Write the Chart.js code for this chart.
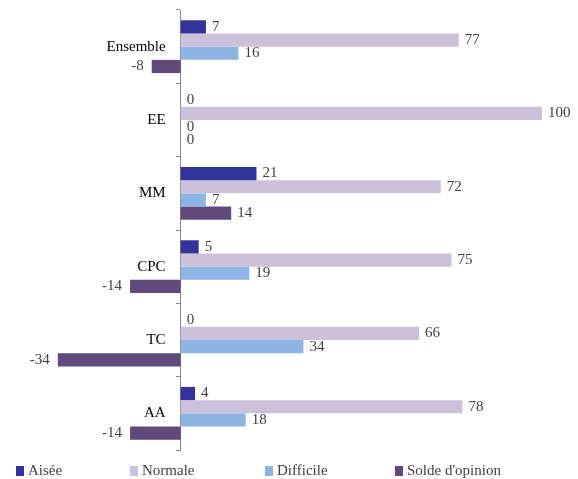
<!DOCTYPE html>
<html>
<head>
<meta charset="utf-8">
<script src="https://cdn.jsdelivr.net/npm/chart.js@4"></script>
<style>
  body { margin: 0; background: #fff; }
  #wrap { position: relative; width: 578px; height: 479px; }
  #legend { position: absolute; left: 0; top: 462px; width: 578px; height: 17px;
            font-family: 'Liberation Serif', serif; font-size: 15px; color: #404040; }
  .item { position: absolute; top: 0; white-space: nowrap; }
  .box { display: inline-block; width: 8px; height: 10px; margin-right: 4px; vertical-align: -1px; }
</style>
</head>
<body>
<div id="wrap">
  <canvas id="chart" width="578" height="479"></canvas>
  <div id="legend"></div>
</div>
<script>
// donnees
const categories = ['Ensemble', 'EE', 'MM', 'CPC', 'TC', 'AA'];
const seriesNames = ['Aisée', 'Normale', 'Difficile', "Solde d'opinion"];
const aisee = [7, 0, 21, 5, 0, 4];
const normale = [77, 100, 72, 75, 66, 78];
const difficile = [16, 0, 7, 19, 34, 18];
const solde = [-8, 0, 14, -14, -34, -14];

const colors = ['#333399', '#ccc1da', '#8eb4e3', '#604a7b'];
const legendX = [16, 130, 265, 395];
const FONT = "'Liberation Serif', serif";

// etiquettes des barres + noms de categories pres de l'axe
const barLabels = {
    id: 'barLabels',
    afterDatasetsDraw(chart) {
        const ctx = chart.ctx;
        ctx.save();
        ctx.font = '15px ' + FONT;
        ctx.textBaseline = 'middle';
        ctx.fillStyle = '#404040';
        chart.data.datasets.forEach((ds, i) => {
            chart.getDatasetMeta(i).data.forEach((bar, j) => {
                const v = ds.data[j];
                if (v < 0) {
                    ctx.textAlign = 'right';
                    ctx.fillText(String(v), bar.x - 8, bar.y);
                } else {
                    ctx.textAlign = 'left';
                    ctx.fillText(String(v), bar.x + 6, bar.y);
                }
            });
        });
        // categories
        const x0 = chart.scales.x.getPixelForValue(0);
        ctx.fillStyle = '#000';
        ctx.textAlign = 'right';
        categories.forEach((c, j) => {
            ctx.fillText(c, x0 - 15, chart.scales.y.getPixelForValue(j));
        });
        ctx.restore();
    }
};

const allSeries = [aisee, normale, difficile, solde];

new Chart(document.getElementById('chart'), {
    type: 'bar',
    data: {
        labels: categories,
        datasets: allSeries.map((d, i) => ({
            label: seriesNames[i],
            data: d,
            backgroundColor: colors[i],
            borderWidth: 0,
            categoryPercentage: 0.72,
            barPercentage: 1
        }))
    },
    options: {
        indexAxis: 'y',
        responsive: false,
        animation: false,
        layout: { padding: { top: 10, bottom: 29, left: 0, right: 0 } },
        plugins: {
            legend: { display: false },
            tooltip: { enabled: false }
        },
        scales: {
            x: {
                display: false,
                min: -50,
                max: 110
            },
            y: {
                position: { x: 0 },
                border: { color: '#868686', width: 1 },
                grid: { drawOnChartArea: false, drawTicks: true, tickLength: 4, color: '#868686', offset: true },
                ticks: { display: false }
            }
        }
    },
    plugins: [barLabels]
});

// legende HTML
const legend = document.getElementById('legend');
seriesNames.forEach((name, i) => {
    const it = document.createElement('div');
    it.className = 'item';
    it.style.left = legendX[i] + 'px';
    it.innerHTML = '<span class="box" style="background:' + colors[i] + '"></span>' + name;
    legend.appendChild(it);
});
</script>
</body>
</html>
